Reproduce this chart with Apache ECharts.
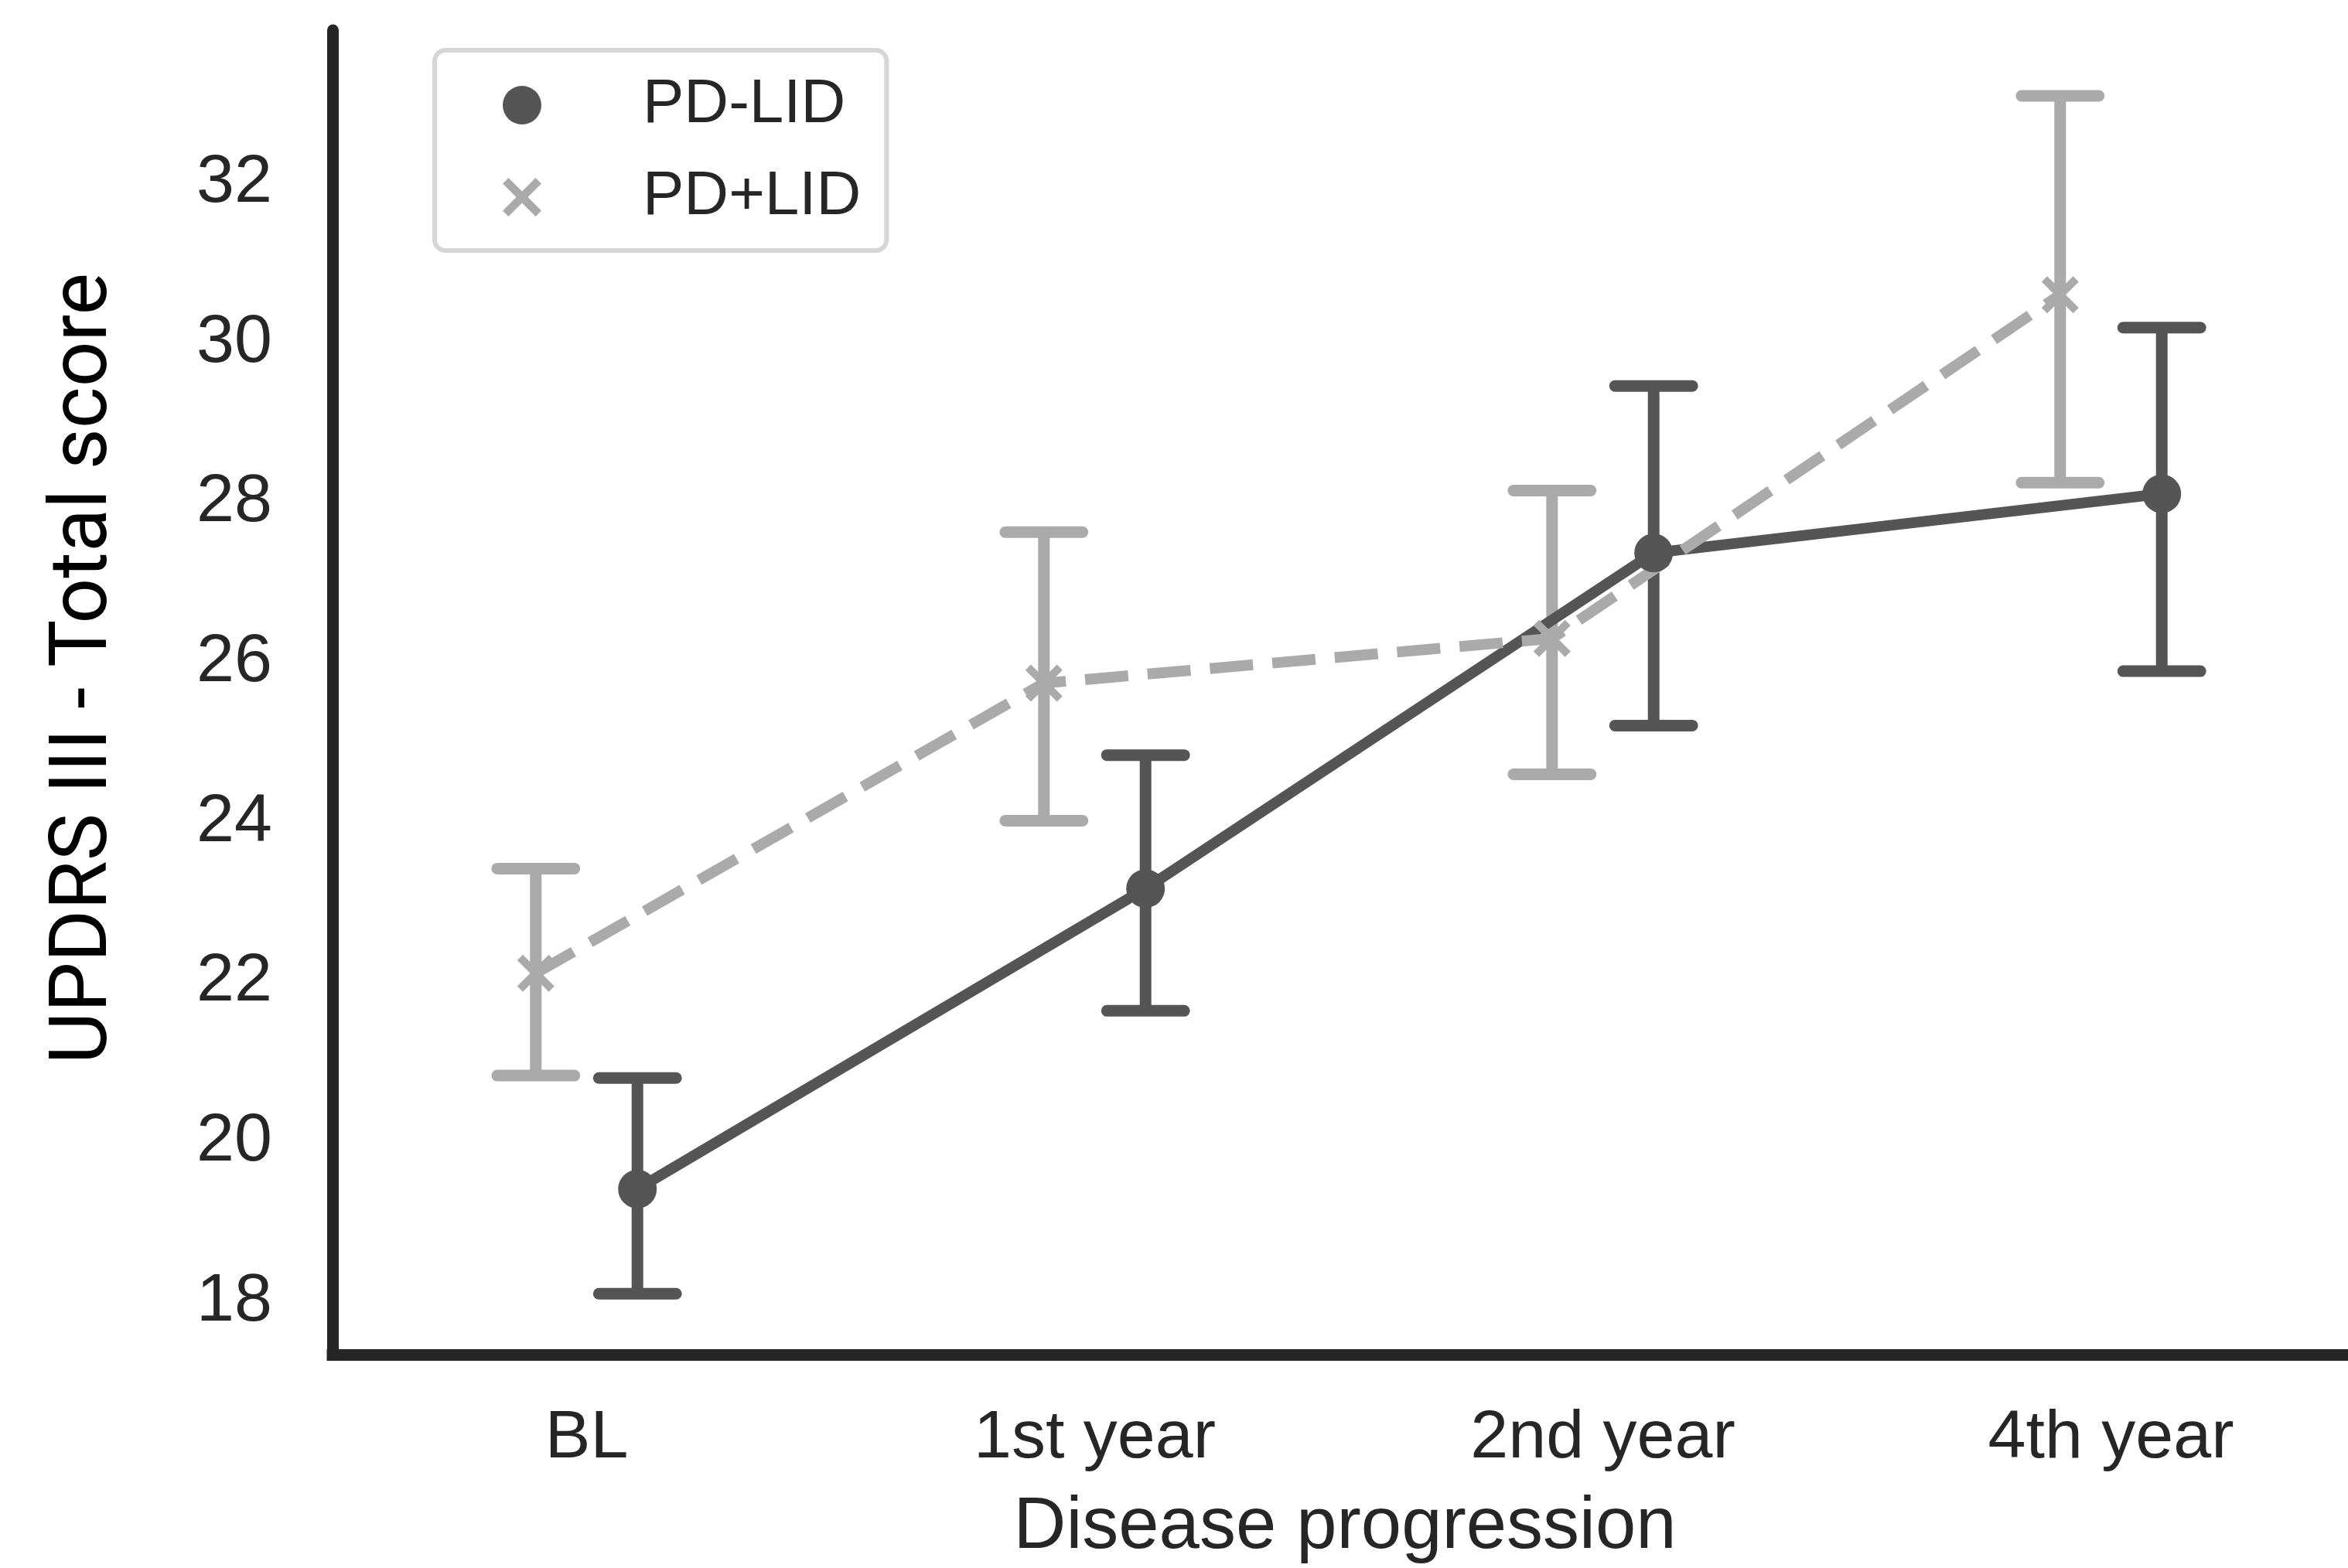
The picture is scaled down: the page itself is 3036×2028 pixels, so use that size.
<!DOCTYPE html>
<html>
<head>
<meta charset="utf-8">
<script src="https://cdn.jsdelivr.net/npm/echarts@6/dist/echarts.min.js"></script>
<style>html,body{margin:0;padding:0;background:#fff}#c{width:3036px;height:2028px}</style>
</head>
<body>
<div id="c"></div>
<script>
// ---- data ----
const categories = ['BL', '1st year', '2nd year', '4th year'];
const yTicks = [18, 20, 22, 24, 26, 28, 30, 32];
const seriesNames = ['PD-LID', 'PD+LID'];
const pdNoLidMean = [19.41, 23.17, 27.37, 28.11];
const pdNoLidLow  = [18.10, 21.64, 25.21, 25.89];
const pdNoLidHigh = [20.80, 24.84, 29.46, 30.19];
const pdLidMean = [22.11, 25.74, 26.30, 30.60];
const pdLidLow  = [20.83, 24.02, 24.60, 28.25];
const pdLidHigh = [23.42, 27.63, 28.15, 33.09];

// ---- style ----
const DARK = '#555555', LIGHT = '#aaaaaa', INK = '#262626';
const FONT = '"Liberation Sans", Arial, Helvetica, sans-serif';
const YFONT = 'Roboto, "Noto Sans", sans-serif';
const DODGE = 0.1;
const CAP_HALF = 0.076;
const X_PATH = 'path://M0,1.5 L1.5,0 L5,3.5 L8.5,0 L10,1.5 L6.5,5 L10,8.5 L8.5,10 L5,6.5 L1.5,10 L0,8.5 L3.5,5 Z';

function errData(low, high, off) {
  return categories.map((c, i) => [i + off, low[i], high[i]]);
}
function lineData(mean, off) {
  return categories.map((c, i) => [i + off, mean[i]]);
}
function errRender(color) {
  return function (params, api) {
    const x = api.value(0), lo = api.value(1), hi = api.value(2);
    const t = api.coord([x, hi]);
    const b = api.coord([x, lo]);
    const hw = api.size([CAP_HALF, 0])[0];
    const st = { stroke: color, lineWidth: 15, lineCap: 'butt' };
    const cs = { stroke: color, lineWidth: 15, lineCap: 'round' };
    return {
      type: 'group',
      children: [
        { type: 'line', shape: { x1: t[0], y1: t[1], x2: b[0], y2: b[1] }, style: st },
        { type: 'line', shape: { x1: t[0] - hw, y1: t[1], x2: t[0] + hw, y2: t[1] }, style: cs },
        { type: 'line', shape: { x1: b[0] - hw, y1: b[1], x2: b[0] + hw, y2: b[1] }, style: cs }
      ]
    };
  };
}

const chart = echarts.init(document.getElementById('c'), null, { renderer: 'canvas' });
chart.setOption({
  animation: false,
  backgroundColor: '#ffffff',
  textStyle: { fontFamily: FONT, color: INK },
  grid: { left: 430, top: 39, right: 0, height: 1716, containLabel: false },
  xAxis: {
    type: 'value', min: -0.5, max: 3.4665,
    axisLine: { show: true, onZero: false, lineStyle: { color: INK, width: 15, cap: 'square' } },
    axisTick: { show: false },
    splitLine: { show: false },
    axisLabel: {
      customValues: [0, 1, 2, 3],
      formatter: v => categories[Math.round(v)],
      margin: 65, fontSize: 88, color: INK, fontFamily: FONT
    },
    name: 'Disease progression', nameLocation: 'middle', nameGap: 177,
    nameTextStyle: { fontSize: 94, color: INK, fontFamily: FONT, padding: [0, 0, 0, 12] }
  },
  yAxis: {
    type: 'value', min: 17.338, max: 33.912,
    axisLine: { show: true, onZero: false, lineStyle: { color: INK, width: 15 } },
    axisTick: { show: false },
    splitLine: { show: false },
    axisLabel: {
      customValues: yTicks,
      margin: 78, fontSize: 88, color: INK, fontFamily: FONT
    },
    name: 'UPDRS III - Total score', nameLocation: 'middle', nameGap: 267,
    nameTextStyle: { fontSize: 103, color: '#000000', fontFamily: YFONT, padding: [0, 0, 0, 62] }
  },
  legend: {
    orient: 'vertical', left: 562, top: 65,
    data: [{ name: seriesNames[0], icon: 'circle' }, { name: seriesNames[1], icon: X_PATH }],
    itemWidth: 50, itemHeight: 50, itemGap: 33,
    padding: [28, 33, 26, 88],
    borderColor: '#d6d6d6', borderWidth: 6, borderRadius: 14, backgroundColor: '#ffffff',
    itemStyle: { borderWidth: 0 },
    selectedMode: false,
    textStyle: { fontSize: 80, color: INK, fontFamily: FONT, lineHeight: 60, padding: [0, 0, 26, 126] }
  },
  series: [
    {
      type: 'custom', name: 'PD-LID CI', data: errData(pdNoLidLow, pdNoLidHigh, DODGE),
      encode: { x: 0, y: [1, 2] }, renderItem: errRender(DARK), clip: false, silent: true
    },
    {
      type: 'line', name: seriesNames[0], data: lineData(pdNoLidMean, DODGE),
      symbol: 'circle', symbolSize: 50, showSymbol: true,
      itemStyle: { color: DARK, borderWidth: 0 },
      lineStyle: { color: DARK, width: 14, type: 'solid' },
      emphasis: { disabled: true }, silent: true
    },
    {
      type: 'custom', name: 'PD+LID CI', data: errData(pdLidLow, pdLidHigh, -DODGE),
      encode: { x: 0, y: [1, 2] }, renderItem: errRender(LIGHT), clip: false, silent: true
    },
    {
      type: 'line', name: seriesNames[1], data: lineData(pdLidMean, -DODGE),
      symbol: X_PATH, symbolSize: 48, showSymbol: true,
      itemStyle: { color: LIGHT, borderWidth: 0 },
      lineStyle: { color: LIGHT, width: 14, type: [56, 25] },
      emphasis: { disabled: true }, silent: true
    }
  ]
});
</script>
</body>
</html>
